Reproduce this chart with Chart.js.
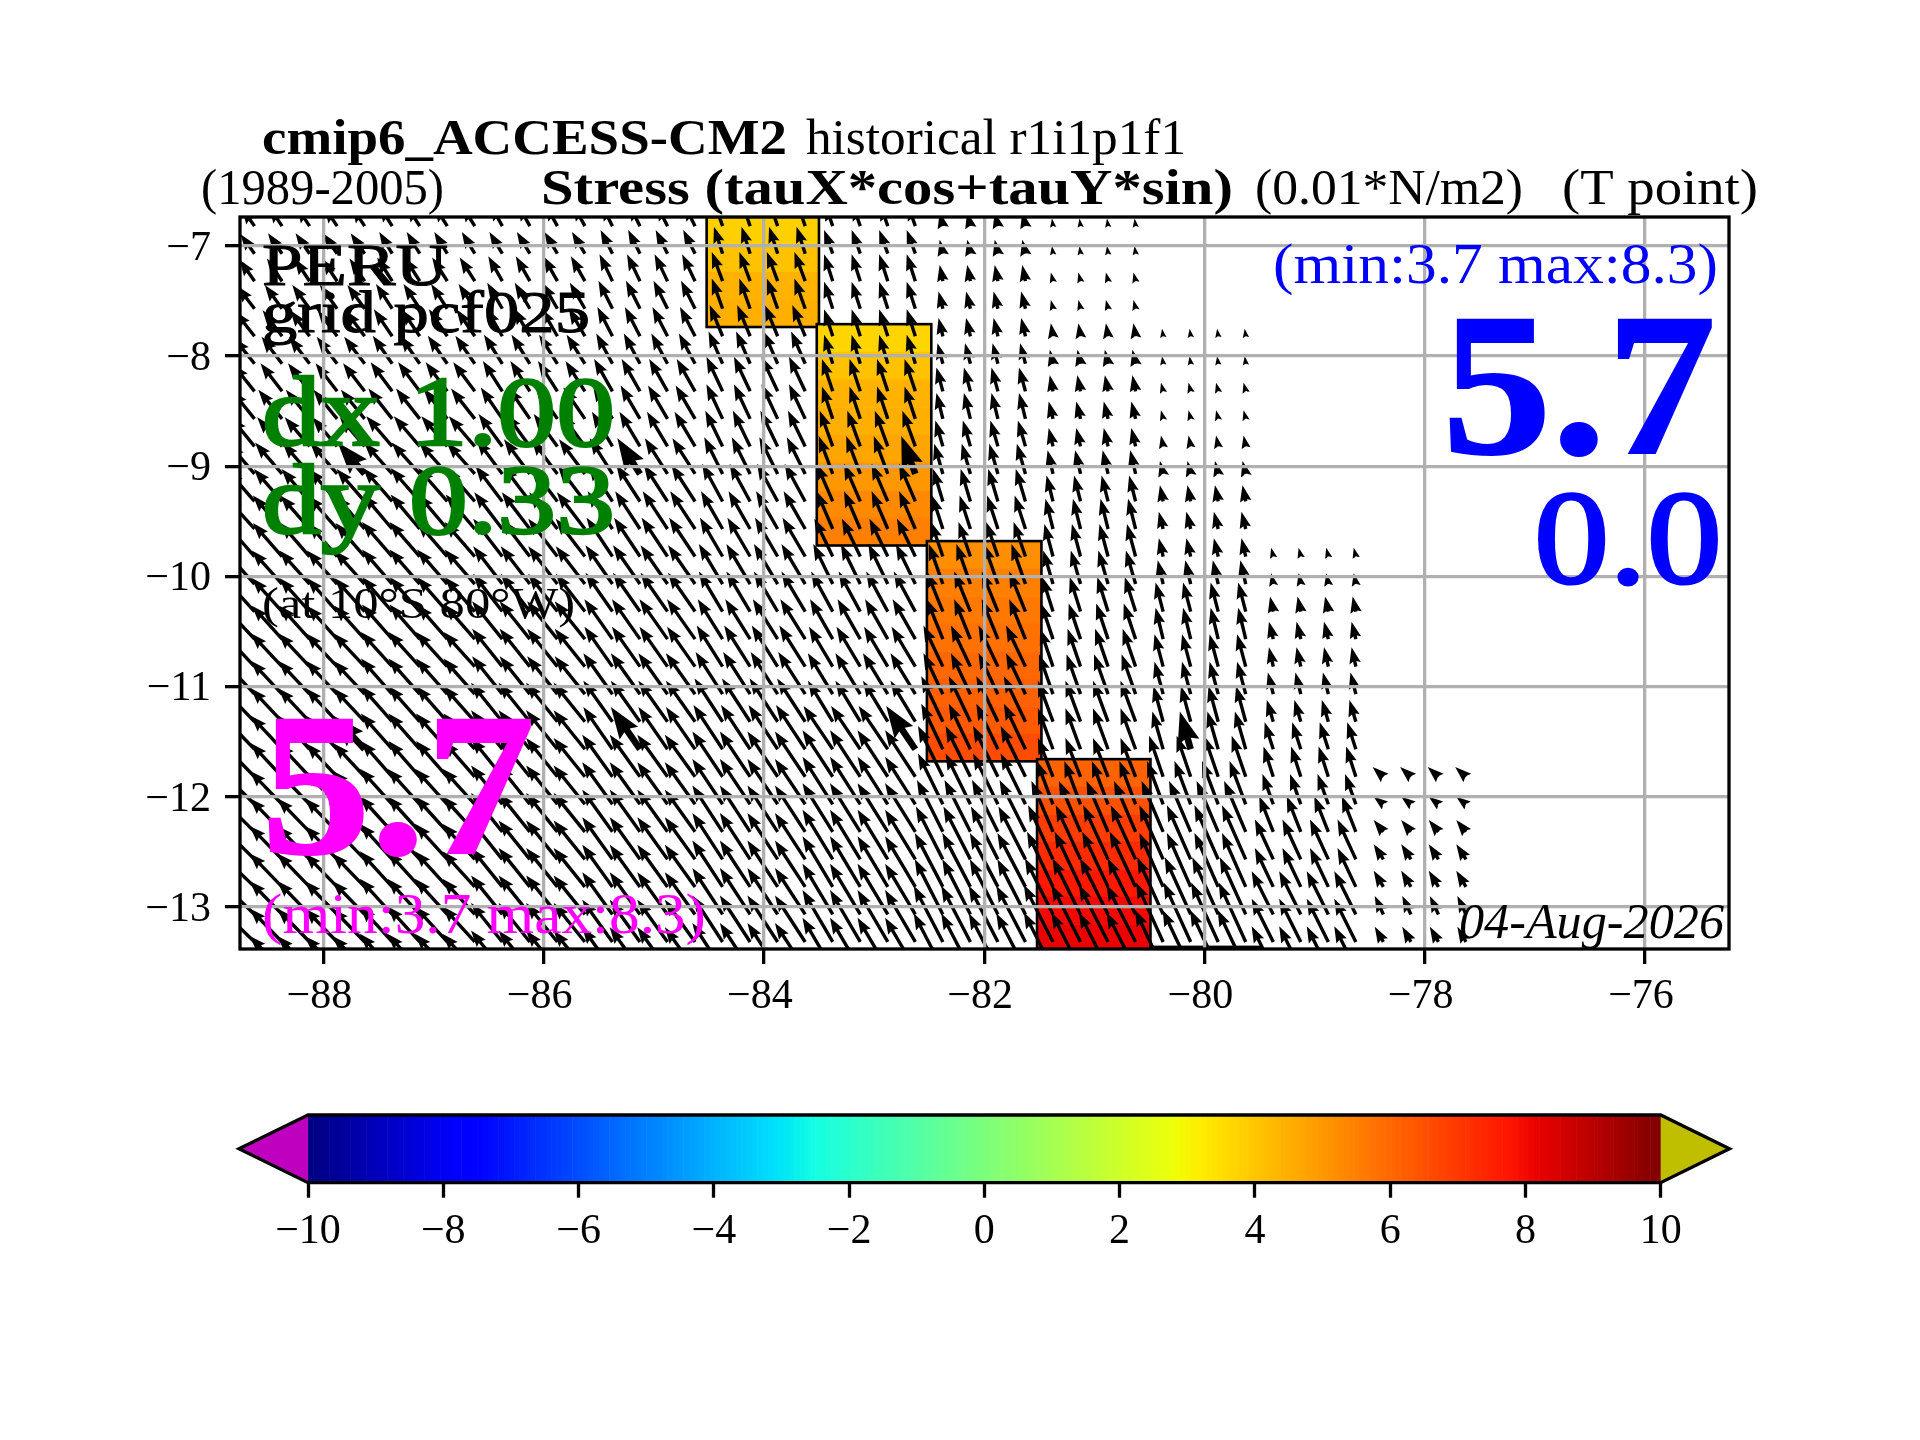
<!DOCTYPE html>
<html>
<head>
<meta charset="utf-8">
<title>cmip6_ACCESS-CM2 alongshore stress</title>
<script src="https://cdn.jsdelivr.net/npm/chart.js@4/dist/chart.umd.min.js"></script>
<style>
  html, body { margin: 0; padding: 0; background: #fff; }
  #wrap { position: relative; width: 1920px; height: 1440px; }
  canvas { position: absolute; left: 0; top: 0; }
</style>
</head>
<body>
<div id="wrap">
  <canvas id="mapChart" width="1920" height="1440"></canvas>
  <canvas id="barChart" width="1920" height="1440"></canvas>
</div>
<script>
// axis ticks
const lonTicks = [-88, -86, -84, -82, -80, -78, -76];
const latTicks = [-7, -8, -9, -10, -11, -12, -13];
const barTicks = [-10, -8, -6, -4, -2, 0, 2, 4, 6, 8, 10];

// quiver grid
const arrowLons = [-88.625, -88.375, -88.125, -87.875, -87.625, -87.375, -87.125, -86.875, -86.625,
  -86.375, -86.125, -85.875, -85.625, -85.375, -85.125, -84.875, -84.625, -84.375, -84.125, -83.875,
  -83.625, -83.375, -83.125, -82.875, -82.625, -82.375, -82.125, -81.875, -81.625, -81.375, -81.125,
  -80.875, -80.625, -80.375, -80.125, -79.875, -79.625, -79.375, -79.125, -78.875, -78.625, -78.375,
  -78.125, -77.875, -77.625];
const arrowLats = [-6.82, -7.07, -7.32, -7.57, -7.82, -8.07, -8.32, -8.57, -8.82, -9.07, -9.32, -9.57,
  -9.82, -10.07, -10.32, -10.57, -10.82, -11.07, -11.32, -11.57, -11.82, -12.07, -12.32, -12.57,
  -12.82, -13.07, -13.32, -13.57];

// which 1 degree forcing box each quiver column falls in
const lonBox = [0, 1, 1, 1, 1, 2, 2, 2, 2, 3, 3, 3, 3, 4, 4, 4, 4, 5, 5, 5, 5, 6, 6, 6, 6, 7, 7, 7, 7,
  8, 8, 8, 8, 9, 9, 9, 9, 10, 10, 10, 10, 11, 11, 11, 11];

// stress components per row (north to south) and per lon box, land boxes left out
const tauX = [
  [-12, -12, -12, -11, -10, -8, -7, -3, -1],
  [-13, -13, -12, -12, -11, -8, -8, -3, -1],
  [-14, -14, -14, -13, -12, -10, -8, -3, -2],
  [-16, -16, -15, -14, -13, -10, -8, -4, -2],
  [-18, -18, -17, -15, -14, -12, -8, -4, -2, -1],
  [-19, -19, -18, -17, -15, -13, -8, -5, -3, -1],
  [-20, -20, -20, -18, -17, -15, -10, -6, -3, -2],
  [-21, -22, -22, -20, -18, -15, -10, -6, -4, -2],
  [-22, -23, -24, -22, -19, -16, -12, -7, -4, -2],
  [-24, -25, -26, -24, -21, -17, -13, -8, -5, -3],
  [-25, -26, -27, -25, -22, -19, -15, -9, -6, -3],
  [-26, -27, -27, -26, -23, -20, -15, -10, -7, -4],
  [-26, -27, -28, -27, -24, -21, -17, -11, -8, -4, -2],
  [-27, -28, -28, -27, -25, -22, -18, -13, -9, -5, -2],
  [-27, -28, -28, -27, -25, -22, -20, -15, -10, -7, -3],
  [-28, -28, -28, -28, -26, -23, -21, -15, -11, -7, -4],
  [-28, -29, -29, -28, -26, -24, -22, -18, -12, -8, -4],
  [-28, -29, -29, -28, -27, -25, -23, -18, -13, -8, -5],
  [-29, -29, -29, -29, -27, -26, -23, -20, -14, -9, -6],
  [-29, -29, -29, -29, -27, -27, -27, -20, -14, -10, -8],
  [-29, -29, -29, -29, -28, -28, -28, -23, -14, -13, -9, -10],
  [-30, -30, -30, -29, -28, -28, -28, -23, -15, -15, -10, -9],
  [-30, -30, -30, -29, -28, -28, -28, -24, -20, -20, -13, -9],
  [-30, -30, -30, -29, -28, -28, -28, -25, -23, -22, -17, -9],
  [-30, -30, -30, -29, -28, -28, -28, -26, -24, -22, -17, -9],
  [-30, -30, -30, -29, -28, -28, -28, -26, -26, -24, -20, -8],
  [-30, -30, -30, -29, -28, -28, -28, -27, -27, -25, -20, -8],
  [-30, -30, -30, -29, -28, -28, -28, -27, -27, -26, -20, -7]
];
const tauY = [
  [17, 18, 19, 20, 20, 23, 20, 13, 7],
  [18, 19, 20, 20, 22, 25, 22, 13, 7],
  [20, 21, 22, 23, 25, 27, 25, 15, 8],
  [21, 22, 23, 24, 26, 28, 25, 16, 8],
  [23, 24, 25, 26, 27, 29, 25, 17, 12, 7],
  [24, 25, 26, 27, 28, 30, 27, 19, 13, 7],
  [25, 26, 27, 28, 30, 32, 30, 22, 15, 8],
  [26, 27, 28, 29, 31, 32, 30, 24, 16, 8],
  [27, 27, 28, 30, 32, 33, 33, 24, 17, 10],
  [28, 29, 29, 32, 33, 34, 35, 28, 22, 12],
  [29, 30, 31, 33, 34, 35, 35, 30, 24, 15],
  [29, 31, 32, 34, 35, 35, 35, 31, 28, 16],
  [30, 31, 32, 35, 36, 36, 35, 32, 30, 17, 8],
  [30, 31, 32, 35, 36, 37, 37, 37, 31, 22, 10],
  [30, 31, 32, 35, 36, 37, 37, 37, 32, 27, 14],
  [30, 31, 32, 35, 37, 37, 37, 37, 33, 29, 16],
  [30, 31, 32, 35, 37, 38, 37, 38, 35, 30, 18],
  [30, 31, 33, 35, 38, 39, 38, 38, 37, 30, 20],
  [30, 31, 33, 36, 38, 40, 38, 42, 38, 33, 20],
  [30, 31, 33, 36, 39, 41, 40, 42, 38, 35, 25],
  [30, 31, 33, 36, 39, 42, 43, 47, 36, 38, 28, 9],
  [30, 31, 33, 36, 39, 42, 44, 47, 40, 40, 28, 7],
  [30, 31, 33, 36, 39, 43, 45, 48, 47, 47, 33, 11],
  [30, 31, 33, 36, 39, 43, 46, 49, 50, 50, 37, 14],
  [29, 31, 33, 36, 39, 43, 47, 50, 51, 50, 36, 15],
  [29, 31, 33, 36, 39, 43, 47, 51, 52, 53, 40, 17],
  [29, 31, 33, 36, 39, 43, 48, 52, 53, 55, 40, 14],
  [29, 31, 33, 36, 39, 43, 48, 52, 53, 55, 40, 8]
];

// a few arrows are drawn heavier in the reference: row, column
const heavyRows = [9, 9, 9, 19, 19, 19, 19];
const heavyCols = [4, 14, 24, 4, 14, 24, 34];

// alongshore stress boxes, one band per quarter degree from north to south
const boxWest = [-84.52, -83.52, -82.52, -81.52, -80.48];
const boxEast = [-83.5, -82.48, -81.48, -80.49, -79.49];
const boxNorth = [-6.736, -7.71, -9.68, -11.66, -13.365];
const boxSouth = [-7.736, -9.72, -11.68, -13.41, -13.6];
const boxValues = [
  [3.8, 4.1, 4.4, 4.5],
  [3.7, 4.1, 4.4, 4.5, 4.7, 5.0, 5.3, 5.5],
  [5.2, 5.5, 5.66, 5.8, 6.0, 6.16, 6.3, 6.6],
  [6.1, 6.5, 6.9, 7.3, 7.7, 8.0, 8.15],
  [8.0]
];

const BAR_STEP = 0.078125;
const QUIVER_SCALE = 1.08;
const SERIF = '"Liberation Serif", "DejaVu Serif", serif';
const GRID_GRAY = "#b0b0b0";
const LW = 3.3;

// matplotlib jet, value range -10..10
const jet = (value) => {
  const t = Math.min(1, Math.max(0, (value + 10) / 20));
  const ramp = (stops) => {
    for (let i = 1; i < stops.length; i++) {
      if (t <= stops[i][0]) {
        const [x0, y0] = stops[i - 1];
        const [x1, y1] = stops[i];
        return y0 + ((t - x0) / (x1 - x0)) * (y1 - y0);
      }
    }
    return stops[stops.length - 1][1];
  };
  const r = ramp([[0, 0], [0.35, 0], [0.66, 1], [0.89, 1], [1, 0.5]]);
  const g = ramp([[0, 0], [0.125, 0], [0.375, 1], [0.64, 1], [0.91, 0], [1, 0]]);
  const b = ramp([[0, 0.5], [0.11, 1], [0.34, 1], [0.65, 0], [1, 0]]);
  return `rgb(${Math.round(r * 255)},${Math.round(g * 255)},${Math.round(b * 255)})`;
};

const minusLabel = (v) => (v < 0 ? "\u2212" + Math.abs(v) : String(v));

// fit a string between two x positions, Computer Modern runs wider than the installed serif
const fitText = (ctx, str, x0, x1, baseline, font, color, weight = 0) => {
  ctx.save();
  ctx.font = font;
  ctx.fillStyle = color;
  ctx.strokeStyle = color;
  ctx.textAlign = "left";
  ctx.textBaseline = "alphabetic";
  const w = ctx.measureText(str).width;
  ctx.translate(x0, baseline);
  ctx.scale((x1 - x0) / w, 1);
  ctx.fillText(str, 0, 0);
  if (weight) {
    ctx.lineWidth = weight;
    ctx.strokeText(str, 0, 0);
  }
  ctx.restore();
};

const drawArrow = (ctx, xTail, yTail, dx, dy, heavy) => {
  const len = Math.hypot(dx, dy);
  if (!len) return;
  const shrink = Math.min(1, len / 14);
  const w = (heavy ? 6.6 : 3.4) * shrink;
  const headLen = 4.8 * w;
  const headBack = 4.3 * w;
  const headHalf = 1.7 * w;
  ctx.save();
  ctx.translate(xTail, yTail);
  ctx.rotate(Math.atan2(dy, dx));
  ctx.beginPath();
  ctx.moveTo(0, -w / 2);
  ctx.lineTo(len - headBack, -w / 2);
  ctx.lineTo(len - headLen, -headHalf);
  ctx.lineTo(len, 0);
  ctx.lineTo(len - headLen, headHalf);
  ctx.lineTo(len - headBack, w / 2);
  ctx.lineTo(0, w / 2);
  ctx.closePath();
  ctx.fill();
  ctx.restore();
};

// cells under the arrows, arrows under the grid (grid sits on z 1)
const mapMarks = {
  id: "mapMarks",
  afterDatasetsDraw(chart) {
    const { ctx, chartArea: area, scales } = chart;
    const xs = scales.x;
    const ys = scales.y;
    ctx.save();
    ctx.beginPath();
    ctx.rect(area.left, area.top, area.right - area.left, area.bottom - area.top);
    ctx.clip();
    boxValues.forEach((bands, i) => {
      const left = xs.getPixelForValue(boxWest[i]);
      const right = xs.getPixelForValue(boxEast[i]);
      const top = ys.getPixelForValue(boxNorth[i]);
      const bottom = ys.getPixelForValue(boxSouth[i]);
      const h = (bottom - top) / bands.length;
      bands.forEach((v, j) => {
        ctx.fillStyle = jet(v);
        ctx.fillRect(left, top + j * h, right - left, h + 0.5);
      });
      ctx.strokeStyle = "#000";
      ctx.lineWidth = 2.6;
      ctx.strokeRect(left, top, right - left, bottom - top);
    });
    ctx.fillStyle = "#000";
    chart.data.datasets[0].data.forEach((p) => {
      drawArrow(ctx, xs.getPixelForValue(p.x), ys.getPixelForValue(p.y),
        p.u * QUIVER_SCALE, -p.v * QUIVER_SCALE, p.heavy);
    });
    ctx.restore();
  },
  afterDraw(chart) {
    const { ctx, chartArea: area } = chart;
    ctx.save();
    ctx.strokeStyle = "#000";
    ctx.lineWidth = LW;
    ctx.strokeRect(area.left, area.top, area.right - area.left, area.bottom - area.top);
    ctx.restore();

    // titles
    fitText(ctx, "cmip6_ACCESS-CM2", 262, 787, 154, `bold 50px ${SERIF}`, "#000");
    fitText(ctx, "historical r1i1p1f1", 806, 1186, 154, `50px ${SERIF}`, "#000");
    fitText(ctx, "(1989-2005)", 201, 444, 204, `50px ${SERIF}`, "#000");
    fitText(ctx, "Stress (tauX*cos+tauY*sin)", 541, 1233, 204, `bold 50px ${SERIF}`, "#000");
    fitText(ctx, "(0.01*N/m2)", 1255, 1523, 204, `50px ${SERIF}`, "#000");
    fitText(ctx, "(T point)", 1562, 1758, 204, `50px ${SERIF}`, "#000");

    // labels inside the map
    fitText(ctx, "PERU", 262, 448, 285, `60px ${SERIF}`, "#000", 1);
    fitText(ctx, "grid pcf025", 262, 590, 332, `60px ${SERIF}`, "#000", 1);
    fitText(ctx, "dx 1.00", 262, 615, 445, `100px ${SERIF}`, "#008000", 2.5);
    fitText(ctx, "dy 0.33", 262, 615, 533, `100px ${SERIF}`, "#008000", 2.5);
    fitText(ctx, "(at 10\u00b0S 80\u00b0W)", 262, 575, 618, `44px ${SERIF}`, "#000");
    fitText(ctx, "5.7", 261, 535, 853, `bold 204px ${SERIF}`, "#ff00ff", 2);
    fitText(ctx, "(min:3.7 max:8.3)", 262, 706, 933, `58px ${SERIF}`, "#ff00ff");
    fitText(ctx, "(min:3.7 max:8.3)", 1273, 1718, 283, `58px ${SERIF}`, "#0000ff");
    fitText(ctx, "5.7", 1442, 1716, 453, `bold 204px ${SERIF}`, "#0000ff", 2);
    fitText(ctx, "0.0", 1534, 1722, 583, `133px ${SERIF}`, "#0000ff", 3);
    fitText(ctx, "04-Aug-2026", 1459, 1724, 938, `italic 50px ${SERIF}`, "#000");
  },
};

const barMarks = {
  id: "barMarks",
  afterDatasetsDraw(chart) {
    const { ctx, chartArea: area, scales } = chart;
    const xs = scales.x;
    const mid = (area.top + area.bottom) / 2;
    const left = xs.getPixelForValue(-10);
    const right = xs.getPixelForValue(10);
    const tipL = 239;
    const tipR = 1729.5;
    chart.data.datasets[0].data.forEach((p) => {
      const x0 = xs.getPixelForValue(p.x);
      const x1 = xs.getPixelForValue(p.x + BAR_STEP);
      ctx.fillStyle = jet(p.x + BAR_STEP / 2);
      ctx.fillRect(x0, area.top, x1 - x0 + 0.6, area.bottom - area.top);
    });
    ctx.fillStyle = "#bf00bf";
    ctx.beginPath();
    ctx.moveTo(left, area.top);
    ctx.lineTo(tipL, mid);
    ctx.lineTo(left, area.bottom);
    ctx.closePath();
    ctx.fill();
    ctx.fillStyle = "#bfbf00";
    ctx.beginPath();
    ctx.moveTo(right, area.top);
    ctx.lineTo(tipR, mid);
    ctx.lineTo(right, area.bottom);
    ctx.closePath();
    ctx.fill();
    ctx.strokeStyle = "#000";
    ctx.lineWidth = LW;
    ctx.lineJoin = "miter";
    ctx.beginPath();
    ctx.moveTo(left, area.top);
    ctx.lineTo(tipL, mid);
    ctx.lineTo(left, area.bottom);
    ctx.lineTo(right, area.bottom);
    ctx.lineTo(tipR, mid);
    ctx.lineTo(right, area.top);
    ctx.closePath();
    ctx.stroke();
  },
};

const isHeavy = (r, c) => heavyRows.some((row, i) => row === r && heavyCols[i] === c);

const arrowPoints = [];
arrowLats.forEach((lat, r) => {
  arrowLons.forEach((lon, c) => {
    const box = lonBox[c];
    if (box >= tauX[r].length) return;
    arrowPoints.push({ x: lon, y: lat, u: tauX[r][box], v: tauY[r][box], heavy: isHeavy(r, c) });
  });
});

const barPoints = [];
for (let v = -10; v < 10; v += BAR_STEP) barPoints.push({ x: v, y: 0.5 });

const tickFont = { family: SERIF, size: 42 };

new Chart(document.getElementById("mapChart"), {
  type: "scatter",
  data: { datasets: [{ data: arrowPoints, pointRadius: 0, pointHoverRadius: 0 }] },
  plugins: [mapMarks],
  options: {
    responsive: false,
    animation: false,
    devicePixelRatio: 1,
    events: [],
    layout: { padding: { left: 0, top: 217, right: 191, bottom: 0 } },
    plugins: { legend: { display: false }, tooltip: { enabled: false } },
    scales: {
      x: {
        type: "linear",
        min: -88.757,
        max: -75.237,
        afterFit: (axis) => { axis.height = 491; },
        afterBuildTicks: (axis) => { axis.ticks = lonTicks.map((value) => ({ value })); },
        grid: { color: GRID_GRAY, lineWidth: LW, z: 1, tickColor: "#000", tickWidth: LW, tickLength: 15 },
        border: { display: false },
        ticks: { color: "#000", font: tickFont, padding: 8, labelOffset: -4, maxRotation: 0, autoSkip: false, callback: minusLabel },
      },
      y: {
        type: "linear",
        min: -13.384,
        max: -6.737,
        afterFit: (axis) => { axis.width = 240; },
        afterBuildTicks: (axis) => { axis.ticks = latTicks.map((value) => ({ value })); },
        grid: { color: GRID_GRAY, lineWidth: LW, z: 1, tickColor: "#000", tickWidth: LW, tickLength: 15 },
        border: { display: false },
        ticks: { color: "#000", font: tickFont, padding: 14, labelOffset: 3, autoSkip: false, callback: minusLabel },
      },
    },
  },
});

new Chart(document.getElementById("barChart"), {
  type: "scatter",
  data: { datasets: [{ data: barPoints, pointRadius: 0, pointHoverRadius: 0 }] },
  plugins: [barMarks],
  options: {
    responsive: false,
    animation: false,
    devicePixelRatio: 1,
    events: [],
    layout: { padding: { left: 0, top: 1115, right: 259.3, bottom: 0 } },
    plugins: { legend: { display: false }, tooltip: { enabled: false } },
    scales: {
      x: {
        type: "linear",
        min: -10,
        max: 10,
        afterFit: (axis) => { axis.height = 257.3; },
        afterBuildTicks: (axis) => { axis.ticks = barTicks.map((value) => ({ value })); },
        grid: { drawOnChartArea: false, tickColor: "#000", tickWidth: LW, tickLength: 15 },
        border: { display: false },
        ticks: { color: "#000", font: tickFont, padding: 9, maxRotation: 0, autoSkip: false, callback: minusLabel },
      },
      y: {
        type: "linear",
        min: 0,
        max: 1,
        display: false,
        afterFit: (axis) => { axis.width = 308; },
      },
    },
  },
});
</script>
</body>
</html>
